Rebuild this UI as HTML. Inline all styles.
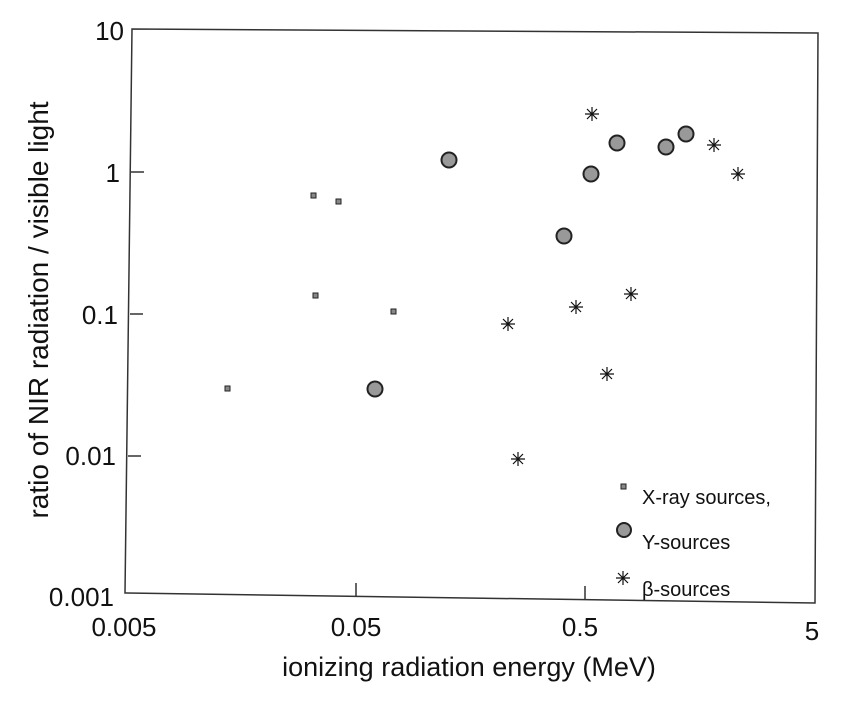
<!DOCTYPE html>
<html><head><style>body{margin:0;background:#fff}</style></head><body>
<svg width="842" height="700" xmlns="http://www.w3.org/2000/svg" font-family="Liberation Sans, sans-serif" fill="#111">
<defs><g id="s"><path d="M-7 0H7M0 -7V7M-5 -5L5 5M-5 5L5 -5"/></g></defs>
<rect x="0" y="0" width="842" height="700" fill="#fff"/>
<g stroke="#333" stroke-width="1.5" fill="none">
<path d="M132 29 L818 33 L815 603 L125 593 Z"/>
<path d="M131 172 L144 172 M130 314 L143 314 M128 456 L141 456 M356 596 L356 583 M585 599 L585 586"/>
</g>
<g font-size="26" text-anchor="end">
<text x="124" y="40">10</text><text x="120" y="182">1</text><text x="118" y="324">0.1</text><text x="116" y="465">0.01</text><text x="114" y="606">0.001</text>
</g>
<g font-size="26" text-anchor="middle">
<text x="124" y="636">0.005</text><text x="356" y="636">0.05</text><text x="580" y="636">0.5</text><text x="812" y="640">5</text>
<text x="469" y="676" font-size="27">ionizing radiation energy (MeV)</text>
<text transform="translate(48,310) rotate(-90)" font-size="28">ratio of NIR radiation / visible light</text>
</g>
<g fill="#888" stroke="#222" stroke-width="1">
<rect x="311" y="193" width="5" height="5"/><rect x="336" y="199" width="5" height="5"/><rect x="313" y="293" width="5" height="5"/><rect x="391" y="309" width="5" height="5"/><rect x="225" y="386" width="5" height="5"/><rect x="621" y="484" width="5" height="5"/>
</g>
<g fill="#999" stroke="#222" stroke-width="2">
<circle cx="449" cy="160" r="7.5"/><circle cx="375" cy="389" r="7.5"/><circle cx="564" cy="236" r="7.5"/><circle cx="591" cy="174" r="7.5"/><circle cx="617" cy="143" r="7.5"/><circle cx="666" cy="147" r="7.5"/><circle cx="686" cy="134" r="7.5"/><circle cx="624" cy="530" r="7"/>
</g>
<g stroke="#111" stroke-width="1.2">
<use href="#s" x="592" y="114"/><use href="#s" x="508" y="324"/><use href="#s" x="576" y="307"/><use href="#s" x="631" y="294"/><use href="#s" x="607" y="374"/><use href="#s" x="518" y="459"/><use href="#s" x="714" y="145"/><use href="#s" x="738" y="174"/><use href="#s" x="623" y="578"/>
</g>
<g font-size="20">
<text x="642" y="504">X-ray sources,</text><text x="642" y="549">Y-sources</text><text x="642" y="596">β-sources</text>
</g>
</svg>
</body></html>
